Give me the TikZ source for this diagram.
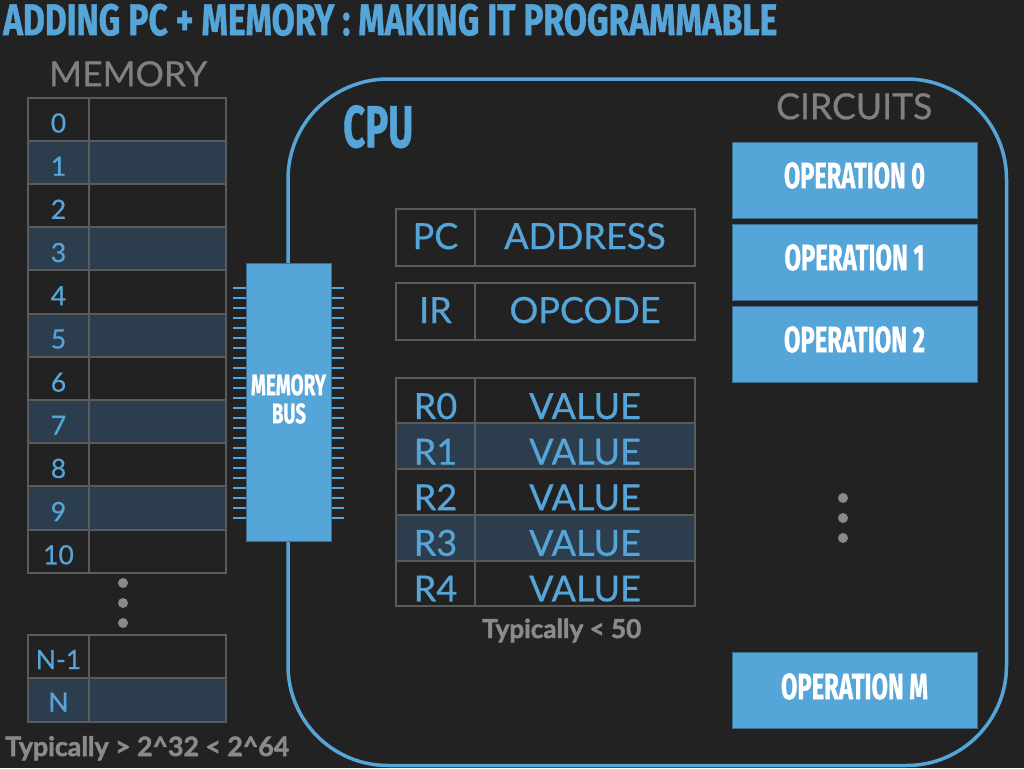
\documentclass[tikz,border=0pt]{standalone}
\usepackage{fontspec}
\usepackage{graphicx}
\setmainfont{Lato}[UprightFeatures={FakeBold=0.6},BoldFeatures={FakeBold=1.8}]
\newfontfamily\condfont{Fira Sans}[BoldFeatures={FakeBold=1.2}]
\definecolor{bg}{HTML}{222222}
\definecolor{cpublue}{HTML}{56A5D8}
\definecolor{darkblue}{HTML}{3C6E92}
\definecolor{gridgray}{HTML}{5B5B5B}
\definecolor{rowfill}{HTML}{2C3D4D}
\definecolor{labelgray}{HTML}{808080}
\definecolor{dotgray}{HTML}{8A8A8A}
\newcommand{\fitbox}[3]{\resizebox{#1pt}{#2pt}{#3}}
\newcommand{\fitw}[2]{\resizebox{#1pt}{!}{#2}}
\begin{document}
\begin{tikzpicture}[x=1pt,y=-1pt,
  cond/.style={inner sep=0pt, text=cpublue, font=\condfont\bfseries},
  graylbl/.style={inner sep=0pt, text=labelgray, anchor=north west},
  note/.style={inner sep=0pt, text=dotgray, anchor=base west, font=\bfseries},
  memnum/.style={anchor=base, inner sep=0pt, text=cpublue, font=\fontsize{26.5}{30}\selectfont},
  regtxt/.style={anchor=base, inner sep=0pt, text=cpublue, font=\fontsize{36}{40}\selectfont},
  opbox/.style={fill=cpublue, draw=darkblue, line width=0.8pt, anchor=north west, minimum width=245pt, minimum height=76pt, inner sep=0pt},
  optext/.style={cond, text=white, anchor=north},
  gridline/.style={draw=gridgray, line width=2pt},
  dot/.style={fill=dotgray, circle, inner sep=0pt, minimum size=10pt},
  pin/.style={draw=cpublue, line width=2.2pt},
]
\useasboundingbox (0,0) rectangle (1024,768);
\fill[bg] (0,0) rectangle (1024,768);

% title
\node[cond, anchor=north west] (title) at (3,3.5) {\fitbox{774}{31.5}{ADDING PC + MEMORY : MAKING IT PROGRAMMABLE}};

% ---------------- memory ----------------
\node[graylbl] (memlbl) at (49,61) {\fitbox{158}{25}{MEMORY}};
\foreach \i in {1,3,5,7,9} {
  \fill[rowfill] (28,{97.7+43.18*\i}) rectangle (226,{97.7+43.18*(\i+1)});
}
\fill[rowfill] (28,678.3) rectangle (226,721.7);
\draw[gridline] (28,97.7) rectangle (226,572.7);
\foreach \i in {1,...,10} {
  \draw[gridline] (28,{97.7+43.18*\i}) -- (226,{97.7+43.18*\i});
}
\draw[gridline] (89,97.7) -- (89,572.7);
\foreach \i in {0,...,10} {
  \node[memnum] (mem\i) at (58.5,{132.5+43.18*\i}) {\i};
}
\node[dot] (mdot1) at (123,583) {};
\node[dot] (mdot2) at (123,603) {};
\node[dot] (mdot3) at (123,623) {};
\draw[gridline] (28,635) rectangle (226,721.7);
\draw[gridline] (28,678.3) -- (226,678.3);
\draw[gridline] (89,635) -- (89,721.7);
\node[memnum] (memn1) at (58.5,669) {N-1};
\node[memnum] (memn) at (58.5,711.7) {N};
\node[note] (memnote) at (5,756) {\fitw{284}{Typically > 2\textasciicircum 32 < 2\textasciicircum 64}};

% ---------------- cpu ----------------
\draw[cpublue, line width=3.5pt, rounded corners=100pt] (288,79) rectangle (1006.5,765.5);
\node[cond, anchor=north west] (cpulbl) at (343,105) {\fitbox{70}{42}{CPU}};
\node[graylbl] (circlbl) at (776,93) {\fitbox{156}{26}{CIRCUITS}};

% memory bus
\foreach \k in {0,...,23} {
  \draw[pin] (233,{287.7+10*\k}) -- (246,{287.7+10*\k});
  \draw[pin] (331,{287.7+10*\k}) -- (344,{287.7+10*\k});
}
\node[fill=cpublue, draw=darkblue, line width=0.8pt, anchor=north west, minimum width=85pt, minimum height=278pt, inner sep=0pt] (bus) at (246,263) {};
\node[optext] (busA) at (288.5,374) {\fitbox{75}{21}{MEMORY}};
\node[optext] (busB) at (289,403) {\fitbox{34}{20}{BUS}};

% PC / IR
\draw[gridline] (396,209) rectangle (695,266);
\draw[gridline] (475,209) -- (475,266);
\node[regtxt] (pc) at (435.5,249) {PC};
\node[regtxt] (pcval) at (585,249) {ADDRESS};
\draw[gridline] (396,283) rectangle (695,340);
\draw[gridline] (475,283) -- (475,340);
\node[regtxt] (ir) at (435.5,323) {IR};
\node[regtxt] (irval) at (585,323) {OPCODE};

% registers
\fill[rowfill] (396,423.3) rectangle (695,469);
\fill[rowfill] (396,514.7) rectangle (695,560.7);
\draw[gridline] (396,378) rectangle (695,606);
\foreach \yy in {423.3,469,514.7,560.7} {
  \draw[gridline] (396,\yy) -- (695,\yy);
}
\draw[gridline] (475,378) -- (475,606);
\foreach \i in {0,...,4} {
  \node[regtxt] (r\i) at (435.5,{419+45.6*\i}) {R\i};
  \node[regtxt] (v\i) at (585,{419+45.6*\i}) {VALUE};
}
\node[note] (regnote) at (482,638) {\fitw{159}{Typically < 50}};

% operations
\node[opbox] (op0) at (732,142) {};
\node[optext] (op0t) at (854.5,162) {\fitbox{141}{26}{OPERATION 0}};
\node[opbox] (op1) at (732,224) {};
\node[optext] (op1t) at (854.5,244) {\fitbox{140}{26}{OPERATION 1}};
\node[opbox] (op2) at (732,306) {};
\node[optext] (op2t) at (854.5,326) {\fitbox{141}{26}{OPERATION 2}};
\node[dot] (odot1) at (843,498) {};
\node[dot] (odot2) at (843,518) {};
\node[dot] (odot3) at (843,538) {};
\node[opbox] (opm) at (732,652) {};
\node[optext] (opmt) at (854.5,673) {\fitbox{147}{26}{OPERATION M}};
\end{tikzpicture}
\end{document}
